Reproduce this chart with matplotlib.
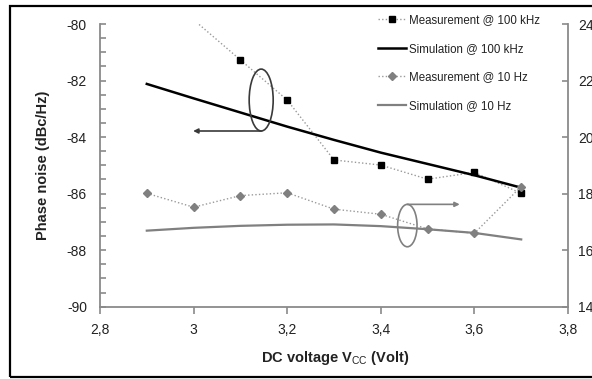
import numpy as np
import matplotlib
matplotlib.use("Agg")
import matplotlib.pyplot as plt
from matplotlib.patches import Ellipse, Rectangle
from matplotlib.ticker import MultipleLocator, FuncFormatter
from matplotlib.lines import Line2D

plt.rcParams['font.family'] = ['Liberation Sans', 'DejaVu Sans']
plt.rcParams['mathtext.fontset'] = 'custom'
plt.rcParams['mathtext.rm'] = 'Liberation Sans'

# ---- data ----
meas100k_x = [3.0, 3.1, 3.2, 3.3, 3.4, 3.5, 3.6, 3.7]
meas100k_y = [-79.85, -81.27, -82.69, -84.81, -84.99, -85.49, -85.25, -85.99]

sim100k_x = [2.9, 3.0, 3.1, 3.2, 3.3, 3.4, 3.5, 3.6, 3.7]
sim100k_y = [-82.12, -82.63, -83.13, -83.63, -84.10, -84.55, -84.95, -85.35, -85.79]

meas10_x = [2.9, 3.0, 3.1, 3.2, 3.3, 3.4, 3.5, 3.6, 3.7]
meas10_y = [18.01, 17.52, 17.93, 18.03, 17.45, 17.27, 16.75, 16.60, 18.25]

sim10_x = [2.9, 3.0, 3.1, 3.2, 3.3, 3.4, 3.5, 3.6, 3.7]
sim10_y = [16.69, 16.79, 16.86, 16.90, 16.91, 16.85, 16.74, 16.61, 16.38]

labels = ["Measurement @ 100 kHz", "Simulation @ 100 kHz",
          "Measurement @ 10 Hz", "Simulation @ 10 Hz"]

W, H = 592, 379
fig = plt.figure(figsize=(W / 100, H / 100), dpi=100)

# outer frame
fig.patches.append(Rectangle((10 / W, 1 - 377 / H), 1.2, (377 - 6) / H,
                             transform=fig.transFigure, fill=False,
                             edgecolor='black', linewidth=1.6, zorder=0))

ax = fig.add_axes([100 / W, 1 - 306.7 / H, 468 / W, (306.7 - 24) / H])
ax2 = ax.twinx()
ax.patch.set_alpha(0)

ax.set_xlim(2.8, 3.8)
ax.set_ylim(-90, -80)
ax2.set_ylim(14, 24)

spine_c = '#8a8a8a'
for a in (ax, ax2):
    for s in a.spines.values():
        s.set_visible(False)
ax.spines['left'].set_visible(True)
ax.spines['bottom'].set_visible(True)
ax2.spines['right'].set_visible(True)
for s in (ax.spines['left'], ax.spines['bottom'], ax2.spines['right']):
    s.set_color(spine_c)
    s.set_linewidth(1.3)

comma = FuncFormatter(lambda v, p: ('%g' % v).replace('.', ','))
ax.xaxis.set_major_locator(MultipleLocator(0.2))
ax.xaxis.set_major_formatter(comma)
ax.yaxis.set_major_locator(MultipleLocator(2))
ax.yaxis.set_minor_locator(MultipleLocator(0.5))
ax.yaxis.set_major_formatter(FuncFormatter(lambda v, p: '%d' % v))
ax2.yaxis.set_major_locator(MultipleLocator(2))
ax2.yaxis.set_major_formatter(FuncFormatter(lambda v, p: '%d' % v))

ax.tick_params(axis='x', direction='out', length=5, width=1.2, color=spine_c,
               labelsize=10, pad=6.5, labelcolor='#222222')
ax.tick_params(axis='y', which='both', direction='in', length=4.5, width=1.2,
               color=spine_c, labelsize=10, pad=9.4, labelcolor='#222222')
ax2.tick_params(axis='y', direction='in', length=4, width=1.2, color=spine_c,
                labelsize=10, pad=7.2, labelcolor='#222222')

# ---- series ----
dot = (0, (1, 1.6))
mx = np.array(meas100k_x)
my = np.array(meas100k_y)
ax.plot(mx, my, color='#9a9a9a', lw=1.0, linestyle=dot, zorder=3)
inr = my <= -80
ax.plot(mx[inr], my[inr], linestyle='none', marker='s', ms=5, color='black', zorder=4)
ax.plot(sim100k_x, sim100k_y, color='black', lw=1.8, zorder=3)

ax2.plot(meas10_x, meas10_y, color='#9a9a9a', lw=1.0, linestyle=dot,
         marker='D', ms=3.8, mfc='#808080', mec='#808080', zorder=3)
ax2.plot(sim10_x, sim10_y, color='#808080', lw=1.6, zorder=3)

# ---- annotations (ellipses + arrows) ----
ax.add_patch(Ellipse((3.1444, -82.69), 0.0513, 2.19, fill=False,
                     edgecolor='#3a3a3a', lw=1.2, zorder=5))
ax.annotate('', xy=(2.999, -83.785), xytext=(3.1444, -83.785),
            arrowprops=dict(arrowstyle='-|>', color='#3a3a3a', lw=1.2,
                            mutation_scale=7, shrinkA=0, shrinkB=0), zorder=5)
ax.add_patch(Ellipse((3.4567, -87.13), 0.0415, 1.50, fill=False,
                     edgecolor='#808080', lw=1.2, zorder=5))
ax.annotate('', xy=(3.5686, -86.38), xytext=(3.4567, -86.38),
            arrowprops=dict(arrowstyle='-|>', color='#808080', lw=1.2,
                            mutation_scale=7, shrinkA=0, shrinkB=0), zorder=5)

# ---- legend ----
handles = [
    Line2D([], [], color='#9a9a9a', lw=1.0, linestyle=dot, marker='s', ms=5,
           mfc='black', mec='black'),
    Line2D([], [], color='black', lw=1.8),
    Line2D([], [], color='#9a9a9a', lw=1.0, linestyle=dot, marker='D', ms=3.8,
           mfc='#808080', mec='#808080'),
    Line2D([], [], color='#808080', lw=1.6),
]
leg = ax2.legend(handles, labels, loc='upper left',
                 bbox_to_anchor=(378 / W, 1 - 14 / H), bbox_transform=fig.transFigure,
                 frameon=False, fontsize=8.3, handlelength=2.45,
                 handletextpad=0.2, labelspacing=1.45, borderpad=0, borderaxespad=0)
for t in leg.get_texts():
    t.set_color('#222222')

# ---- axis titles ----
fig.text(43 / W, 1 - 165 / H, 'Phase noise (dBc/Hz)', rotation=90,
         ha='center', va='center', fontsize=10.5, fontweight='bold', color='#222222')
fig.text(335 / W, 1 - 358 / H, r'DC voltage V$_{\mathrm{CC}}$ (Volt)',
         ha='center', va='center', fontsize=10.5, fontweight='bold', color='#222222')

fig.savefig('out.png', dpi=100)
